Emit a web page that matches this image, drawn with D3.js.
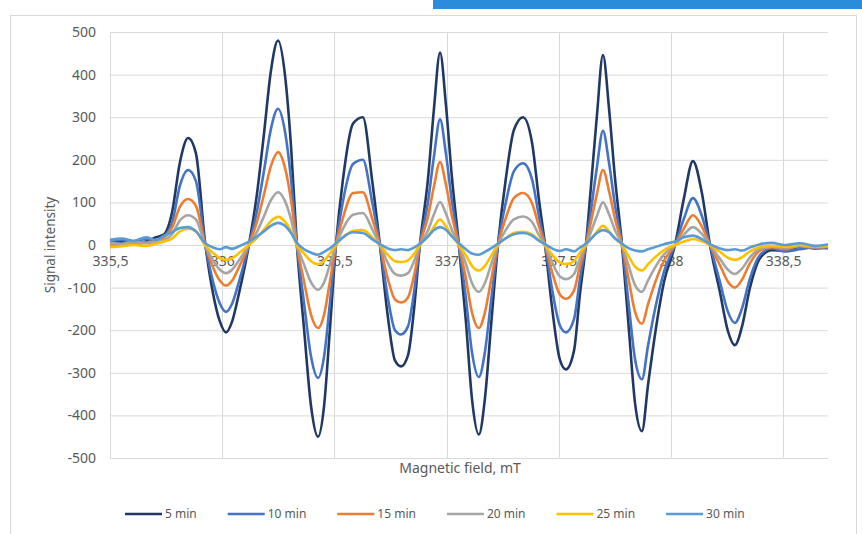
<!DOCTYPE html>
<html lang="en">
<head>
<meta charset="utf-8">
<title>EPR signal</title>
<script src="https://d3js.org/d3.v7.min.js"></script>
<style>
  body { margin: 0; background: #fff; }
  svg { display: block; font-family: "Noto Sans", "Open Sans", sans-serif; }
  .tick text { fill: #595959; }
</style>
</head>
<body>
<script>
// magnetic field, mT (shared by all series)
var field = [335.500, 335.553, 335.607, 335.660, 335.705, 335.741, 335.776, 335.812, 335.848, 335.883,
  335.923, 335.959, 335.990, 336.017, 336.044, 336.075, 336.119, 336.155, 336.186, 336.217,
  336.249, 336.280, 336.307, 336.333, 336.365, 336.396, 336.427, 336.454, 336.480, 336.507,
  336.538, 336.583, 336.627, 336.668, 336.703, 336.739, 336.770, 336.797, 336.828, 336.855,
  336.881, 336.917, 336.944, 336.971, 336.997, 337.024, 337.055, 337.086, 337.113, 337.144,
  337.171, 337.198, 337.229, 337.265, 337.300, 337.341, 337.381, 337.412, 337.439, 337.470,
  337.505, 337.532, 337.568, 337.594, 337.621, 337.643, 337.670, 337.697, 337.724, 337.750,
  337.782, 337.813, 337.840, 337.871, 337.898, 337.929, 337.969, 338.018, 338.058, 338.098,
  338.138, 338.174, 338.218, 338.254, 338.285, 338.316, 338.352, 338.397, 338.450, 338.508,
  338.575, 338.642, 338.700];

var min5 = [5, 8, 2, 8, 18, 25, 75, 195, 251, 215,
  10, -113, -180, -205, -180, -113, 0, 120, 260, 408,
  480, 398, 230, 0, -198, -378, -450, -378, -198, 0,
  153, 285, 300, 153, 0, -171, -271, -285, -259, -151,
  0, 154, 321, 452, 330, 158, 0, -178, -360, -445,
  -360, -191, 0, 159, 270, 300, 240, 105, 0, -146,
  -269, -292, -248, -117, 0, 134, 303, 446, 321, 161,
  0, -201, -371, -437, -328, -210, -87, 0, 110, 197,
  122, 0, -110, -202, -235, -193, -101, -31, -12, -14,
  -4, -8, -6];

var min10 = [10, 12, 8, 14, 10, 20, 50, 140, 176, 150,
  5, -86, -138, -157, -138, -86, 0, 80, 173, 272,
  320, 266, 154, 0, -137, -262, -312, -262, -137, 0,
  102, 190, 200, 102, 0, -126, -200, -210, -191, -111,
  0, 100, 209, 295, 215, 103, 0, -124, -251, -310,
  -251, -133, 0, 102, 173, 192, 154, 67, 0, -103,
  -189, -205, -174, -82, 0, 80, 182, 268, 193, 96,
  0, -145, -268, -315, -236, -151, -63, 0, 62, 110,
  68, 0, -86, -157, -183, -150, -79, -24, -8, -15,
  -10, -5, -8];

var min15 = [2, 0, 5, 6, 10, 18, 40, 90, 108, 92,
  3, -52, -84, -95, -84, -52, 0, 55, 118, 185,
  218, 181, 105, 0, -86, -164, -195, -164, -86, 0,
  63, 122, 124, 63, 0, -81, -128, -135, -123, -72,
  0, 66, 138, 195, 142, 68, 0, -78, -158, -195,
  -158, -84, 0, 65, 110, 122, 98, 43, 0, -63,
  -116, -126, -107, -50, 0, 53, 120, 176, 127, 63,
  0, -85, -157, -185, -139, -89, -37, 0, 39, 70,
  43, 0, -47, -86, -100, -82, -43, -13, -5, -10,
  -3, -6, -4];

var min20 = [5, 3, 7, 4, 8, 12, 25, 58, 70, 60,
  2, -36, -58, -66, -58, -36, 0, 31, 67, 105,
  124, 103, 60, 0, -46, -88, -105, -88, -46, 0,
  38, 71, 75, 38, 0, -43, -68, -72, -66, -38,
  0, 34, 72, 101, 74, 35, 0, -44, -89, -110,
  -89, -47, 0, 36, 60, 67, 54, 23, 0, -40,
  -74, -80, -68, -32, 0, 30, 68, 100, 72, 36,
  0, -51, -94, -110, -83, -53, -22, 0, 24, 42,
  26, 0, -32, -58, -68, -56, -29, -9, -4, -6,
  -2, -5, -3];

var min25 = [-5, -3, 0, -2, 3, 8, 15, 32, 38, 32,
  0, -19, -31, -35, -31, -19, 0, 17, 36, 56,
  66, 55, 32, 0, -20, -38, -45, -38, -20, 0,
  18, 33, 35, 18, 0, -24, -38, -40, -36, -21,
  0, 20, 43, 60, 44, 21, 0, -24, -49, -60,
  -49, -26, 0, 16, 28, 31, 25, 11, 0, -23,
  -41, -45, -38, -18, 0, 14, 31, 45, 32, 16,
  0, -28, -51, -60, -45, -29, -12, 0, 8, 14,
  9, 0, -16, -30, -35, -29, -15, -5, -2, -4,
  0, -3, -2];

var min30 = [12, 15, 10, 18, 12, 22, 30, 40, 42, 32,
  5, -6, -10, -5, -9, -3, 8, 20, 32, 45,
  52, 45, 28, 5, -10, -18, -23, -16, -8, 4,
  18, 30, 28, 14, 2, -8, -12, -10, -12, -6,
  3, 20, 35, 42, 36, 20, 4, -10, -20, -23,
  -16, -8, 3, 16, 25, 28, 22, 10, 2, -8,
  -14, -10, -15, -6, 3, 14, 28, 35, 30, 16,
  3, -8, -13, -15, -10, -5, 2, 8, 18, 22,
  14, 2, -8, -12, -10, -13, -6, 2, 5, 0,
  4, -2, 1];

var seriesNames = ["5 min", "10 min", "15 min", "20 min", "25 min", "30 min"];
var seriesColors = ["#203864", "#4472c4", "#ed7d31", "#a5a5a5", "#ffc000", "#5b9bd5"];
var seriesValues = [min5, min10, min15, min20, min25, min30];

var yTicks = [-500, -400, -300, -200, -100, 0, 100, 200, 300, 400, 500];
var xTicks = [335.5, 336, 336.5, 337, 337.5, 338, 338.5];

var W = 862, H = 534;
var plotL = 110, plotR = 828, plotT = 32, plotB = 458;

// Excel-style numbers: comma decimal, plain hyphen minus
var locale = d3.formatLocale({ decimal: ",", thousands: " ", grouping: [3], currency: ["", ""], minus: "-" });
var fmtX = locale.format("~f");
var fmtY = locale.format("d");

var x = d3.scaleLinear().domain([335.5, 338.7]).range([plotL, plotR]);
var y = d3.scaleLinear().domain([-500, 500]).range([plotB, plotT]);

var svg = d3.select("body").append("svg")
  .attr("width", W)
  .attr("height", H);

svg.append("rect").attr("width", W).attr("height", H).attr("fill", "#fff");

// chart frame
svg.append("rect")
  .attr("x", 10.5).attr("y", 15.5)
  .attr("width", 846).attr("height", 540)
  .attr("fill", "#fff")
  .attr("stroke", "#d9d9d9");

// blue strip at top
svg.append("rect")
  .attr("x", 433).attr("y", 0)
  .attr("width", W - 433).attr("height", 9)
  .attr("fill", "#2b8cdc");

// horizontal grid + y labels
var yAxis = svg.append("g")
  .attr("transform", "translate(" + plotL + ",0)")
  .call(d3.axisLeft(y).tickValues(yTicks).tickFormat(fmtY).tickSize(-(plotR - plotL)).tickPadding(14));
yAxis.select(".domain").remove();
yAxis.selectAll(".tick line").attr("stroke", "#d9d9d9");
yAxis.selectAll(".tick text").style("font-size", "14px").style("font-family", "Noto Sans");

// vertical grid
svg.append("g").selectAll("line")
  .data(xTicks)
  .enter()
  .append("line")
  .attr("x1", function (d) { return Math.round(x(d)) + 0.5; })
  .attr("x2", function (d) { return Math.round(x(d)) + 0.5; })
  .attr("y1", plotT)
  .attr("y2", plotB)
  .attr("stroke", "#d9d9d9");

// x labels sit under the zero line
var xAxis = svg.append("g")
  .attr("transform", "translate(0," + y(0) + ")")
  .call(d3.axisBottom(x).tickValues(xTicks).tickFormat(fmtX).tickSize(0).tickPadding(11));
xAxis.select(".domain").remove();
xAxis.selectAll(".tick text").style("font-size", "14px").style("font-family", "Noto Sans");

// axis titles
svg.append("text")
  .attr("transform", "translate(50," + ((plotT + plotB) / 2) + ")rotate(-90)")
  .attr("text-anchor", "middle")
  .attr("dy", "0.35em")
  .style("font-size", "13.5px")
  .attr("fill", "#595959")
  .text("Signal intensity");

svg.append("text")
  .attr("x", 460)
  .attr("y", 473)
  .attr("text-anchor", "middle")
  .style("font-size", "14px")
  .attr("fill", "#595959")
  .text("Magnetic field, mT");

// series
var line = d3.line()
  .x(function (d, i) { return x(field[i]); })
  .y(function (d) { return y(d); })
  .curve(d3.curveMonotoneX);

svg.append("g").selectAll("path")
  .data(seriesValues)
  .enter()
  .append("path")
  .attr("d", line)
  .attr("fill", "none")
  .attr("stroke", function (d, i) { return seriesColors[i]; })
  .attr("stroke-width", 2.6)
  .attr("stroke-linejoin", "round");

// legend
var legend = svg.append("g").attr("transform", "translate(0,514)");
var lx = 125;
seriesNames.forEach(function (name, i) {
  var g = legend.append("g").attr("transform", "translate(" + lx + ",0)");
  g.append("line")
    .attr("x1", 0).attr("x2", 37)
    .attr("stroke", seriesColors[i])
    .attr("stroke-width", 2.6);
  var t = g.append("text")
    .attr("x", 40)
    .attr("dy", "0.35em")
    .style("font-size", "12px")
    .attr("fill", "#595959")
    .text(name);
  lx += 40 + t.node().getComputedTextLength() + 31;
});
</script>
</body>
</html>
